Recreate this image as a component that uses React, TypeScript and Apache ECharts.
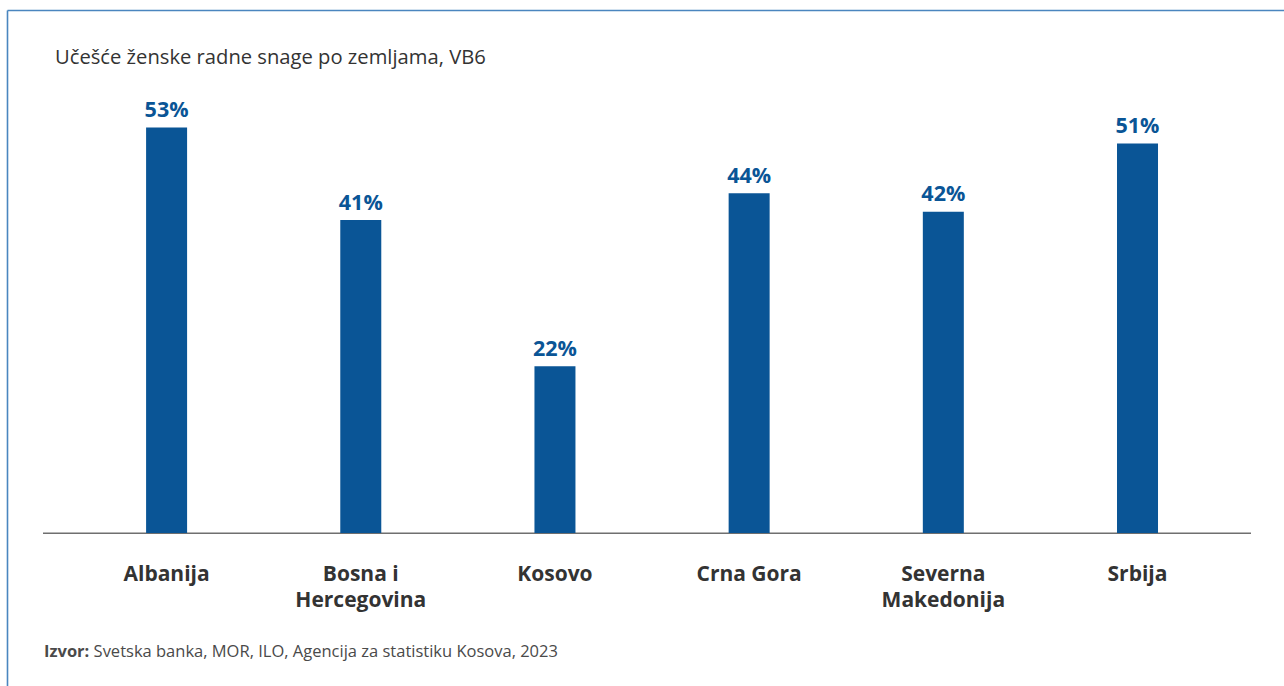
import React, { useEffect, useRef } from "react";
import * as echarts from "echarts";

const categories = ["Albanija", "Bosna i\nHercegovina", "Kosovo", "Crna Gora", "Severna\nMakedonija", "Srbija"];
const values = [53.0, 40.9, 21.8, 44.4, 42.0, 50.9];
const titleText = "Učešće ženske radne snage po zemljama, VB6";
const sourceBold = "Izvor:";
const sourceText = " Svetska banka, MOR, ILO, Agencija za statistiku Kosova, 2023";

const BLUE = "#0a5596";
const FONT = "'Open Sans', sans-serif";

export default function App() {
  const ref = useRef<HTMLDivElement>(null);
  useEffect(() => {
    if (!ref.current) return;
    const chart = echarts.init(ref.current, undefined, { renderer: "svg" });
    chart.setOption({
      animation: false,
      backgroundColor: "#ffffff",
      grid: { left: 69.5, right: 49.4, top: 74, bottom: 153, containLabel: false },
      xAxis: {
        type: "category",
        data: categories,
        axisLine: { show: false },
        axisTick: { show: false },
        axisLabel: {
          color: "#333333",
          fontFamily: FONT,
          fontWeight: "bold",
          fontSize: 21,
          lineHeight: 26,
          margin: 27,
          interval: 0,
        },
      },
      yAxis: {
        type: "value",
        min: 0,
        max: 60,
        show: false,
        splitLine: { show: false },
      },
      series: [
        {
          type: "bar",
          data: values,
          barWidth: 41,
          itemStyle: { color: BLUE },
          label: {
            show: true,
            position: "top",
            distance: 8,
            color: BLUE,
            fontFamily: FONT,
            fontWeight: "bold",
            fontSize: 21.5,
            formatter: (p: any) => Math.round(p.value) + "%",
          },
        },
      ],
      graphic: [
        { type: "line", shape: { x1: 7.5, y1: 10.5, x2: 1284, y2: 10.5 }, style: { stroke: "#4a86bf", lineWidth: 1.6 } },
        { type: "line", shape: { x1: 7.5, y1: 10.5, x2: 7.5, y2: 686 }, style: { stroke: "#4a86bf", lineWidth: 1.6 } },
        { type: "line", shape: { x1: 43, y1: 533.3, x2: 1251, y2: 533.3 }, style: { stroke: "#6f6f6f", lineWidth: 1.6 } },
        {
          type: "text",
          x: 55,
          y: 56,
          style: { text: titleText, fill: "#333333", font: `20.2px ${FONT}`, verticalAlign: "middle" },
        },
        {
          type: "text",
          x: 44,
          y: 650,
          style: {
            text: `{b|${sourceBold}}{r|${sourceText}}`,
            verticalAlign: "middle",
            rich: {
              b: { fill: "#4a4a4a", fontFamily: FONT, fontWeight: "bold", fontSize: 16.5 },
              r: { fill: "#4a4a4a", fontFamily: FONT, fontSize: 16.5 },
            },
          },
        },
      ],
    });
    return () => chart.dispose();
  }, []);
  return (
    <div
      ref={ref}
      style={{ position: "absolute", left: 0, top: 0, width: 1284, height: 686 }}
    />
  );
}
